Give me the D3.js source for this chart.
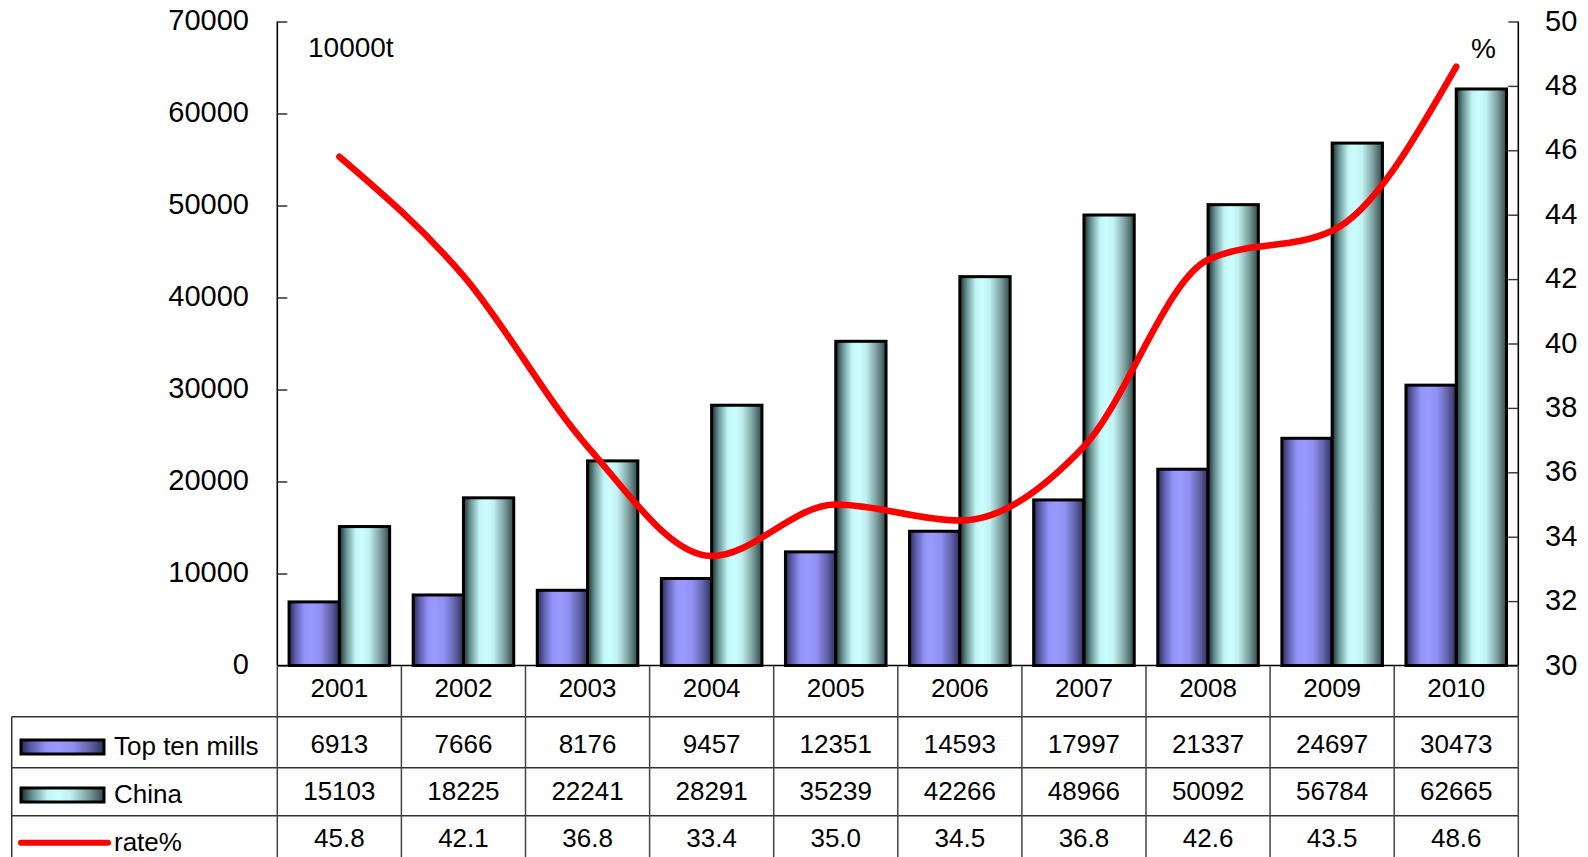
<!DOCTYPE html>
<html>
<head>
<meta charset="utf-8">
<script src="https://cdn.jsdelivr.net/npm/d3@7"></script>
<style>
  html, body { margin: 0; padding: 0; background: #fff; }
  svg { display: block; font-family: "Liberation Sans", Arial, sans-serif; }
</style>
</head>
<body>
<svg id="chart" width="1588" height="857"></svg>
<script>
// Output of the top ten mills vs. all of China (10000 t), and their share (%)
const years = ["2001","2002","2003","2004","2005","2006","2007","2008","2009","2010"];
const topTen = [6913, 7666, 8176, 9457, 12351, 14593, 17997, 21337, 24697, 30473];
const china = [15103, 18225, 22241, 28291, 35239, 42266, 48966, 50092, 56784, 62665];
const rate = [45.8, 42.1, 36.8, 33.4, 35.0, 34.5, 36.8, 42.6, 43.5, 48.6];
const rateLabels = ["45.8","42.1","36.8","33.4","35.0","34.5","36.8","42.6","43.5","48.6"];
const leftTicks = [0, 10000, 20000, 30000, 40000, 50000, 60000, 70000];
const rightTicks = [30, 32, 34, 36, 38, 40, 42, 44, 46, 48, 50];
const seriesNames = ["Top ten mills", "China", "rate%"];

const svg = d3.select("#chart");
const plotLeft = 277.3, plotRight = 1518.3, plotTop = 21.5, plotBottom = 665.5;

const x = d3.scaleBand().domain(years).range([plotLeft, plotRight]);
const xSub = d3.scaleBand().domain(["top", "china"]).range([0, x.bandwidth()]).paddingOuter(0.234);
const y = d3.scaleLinear().domain([0, 70000]).range([plotBottom, plotTop]);
const yR = d3.scaleLinear().domain([30, 50]).range([plotBottom, plotTop]);

// Cylinder-like shading for the two bar series
const defs = svg.append("defs");
function shade(id, stops) {
  const g = defs.append("linearGradient").attr("id", id)
    .attr("x1", "0%").attr("x2", "100%").attr("y1", "0%").attr("y2", "0%");
  stops.forEach(([o, c]) => g.append("stop").attr("offset", o).attr("stop-color", c));
}
shade("gTop", [["0%", "#2a2a55"], ["12%", "#5a5aa8"], ["30%", "#9494f8"], ["45%", "#9999ff"], ["62%", "#9090f2"], ["82%", "#6464ad"], ["100%", "#2e2e58"]]);
shade("gChina", [["0%", "#1a2c2c"], ["14%", "#6a9595"], ["32%", "#c2f5f5"], ["45%", "#ccffff"], ["60%", "#c0f0f0"], ["82%", "#7a9c9c"], ["100%", "#304848"]]);

// Bars
const groups = svg.append("g").selectAll("g").data(years).join("g")
  .attr("transform", d => `translate(${x(d)},0)`);
groups.append("rect")
  .attr("x", xSub("top")).attr("width", xSub.bandwidth())
  .attr("y", (d, i) => y(topTen[i])).attr("height", (d, i) => y(0) - y(topTen[i]))
  .attr("fill", "url(#gTop)").attr("stroke", "#000").attr("stroke-width", 3);
groups.append("rect")
  .attr("x", xSub("china")).attr("width", xSub.bandwidth())
  .attr("y", (d, i) => y(china[i])).attr("height", (d, i) => y(0) - y(china[i]))
  .attr("fill", "url(#gChina)").attr("stroke", "#000").attr("stroke-width", 3);

// Left axis
const leftAxis = svg.append("g").attr("transform", `translate(${plotLeft},0)`)
  .call(d3.axisRight(y).tickValues(leftTicks).tickSize(10).tickFormat(""));
leftAxis.select(".domain").attr("stroke", "#000").attr("stroke-width", 1.6).attr("d", `M0,${plotTop}V${plotBottom}`);
leftAxis.selectAll(".tick line").attr("stroke", "#222").attr("stroke-width", 1.4);
svg.append("g").selectAll("text").data(leftTicks).join("text")
  .attr("x", 249).attr("y", d => y(d) + 8)
  .attr("text-anchor", "end").attr("font-size", 29).attr("fill", "#000")
  .text(d => d);

// Right axis
const rightAxis = svg.append("g").attr("transform", `translate(${plotRight},0)`)
  .call(d3.axisLeft(yR).tickValues(rightTicks).tickSize(10).tickFormat(""));
rightAxis.select(".domain").attr("stroke", "#000").attr("stroke-width", 1.6).attr("d", `M0,${plotTop}V${plotBottom}`);
rightAxis.selectAll(".tick line").attr("stroke", "#333").attr("stroke-width", 1.4);
svg.append("g").selectAll("text").data(rightTicks).join("text")
  .attr("x", 1545).attr("y", d => yR(d) + 9)
  .attr("text-anchor", "start").attr("font-size", 29).attr("fill", "#000")
  .text(d => d);

// Bottom axis line
svg.append("line").attr("x1", plotLeft).attr("x2", plotRight)
  .attr("y1", plotBottom).attr("y2", plotBottom)
  .attr("stroke", "#000").attr("stroke-width", 1.6);

// Unit labels
svg.append("text").attr("x", 308).attr("y", 56.5).attr("font-size", 28).text("10000t");
svg.append("text").attr("x", 1471).attr("y", 57.5).attr("font-size", 28).text("%");

// Rate line
const line = d3.line()
  .x((d, i) => x(years[i]) + x.bandwidth() / 2)
  .y(d => yR(d))
  .curve(d3.curveMonotoneX);
svg.append("path").datum(rate).attr("d", line)
  .attr("fill", "none").attr("stroke", "#ff0000").attr("stroke-width", 6.5)
  .attr("stroke-linecap", "round").attr("stroke-linejoin", "round");

// Data table
const rowLines = [716.7, 767.7, 815.7];
const tableLeft = 11.7, tableBottom = 857;
const grid = svg.append("g");
rowLines.forEach(yy => grid.append("line")
  .attr("x1", tableLeft).attr("x2", plotRight).attr("y1", yy).attr("y2", yy)
  .attr("stroke", "#333").attr("stroke-width", 1.5));
grid.append("line").attr("x1", tableLeft).attr("x2", tableLeft)
  .attr("y1", rowLines[0]).attr("y2", tableBottom)
  .attr("stroke", "#333").attr("stroke-width", 1.5);
const bounds = years.map(d => x(d)).concat([plotRight]);
grid.selectAll(".v").data(bounds).join("line")
  .attr("x1", d => d).attr("x2", d => d)
  .attr("y1", plotBottom).attr("y2", tableBottom)
  .attr("stroke", "#444").attr("stroke-width", 1.5);

const cx = d => x(d) + x.bandwidth() / 2;
const tbl = svg.append("g").attr("font-size", 26).attr("text-anchor", "middle").attr("fill", "#000");
tbl.selectAll(".yr").data(years).join("text").attr("x", cx).attr("y", 697).text(d => d);
tbl.selectAll(".r1").data(years).join("text").attr("x", cx).attr("y", 752.5).text((d, i) => topTen[i]);
tbl.selectAll(".r2").data(years).join("text").attr("x", cx).attr("y", 800).text((d, i) => china[i]);
tbl.selectAll(".r3").data(years).join("text").attr("x", cx).attr("y", 847).text((d, i) => rateLabels[i]);

// Legend keys inside the table
const leg = svg.append("g");
leg.append("rect").attr("x", 21).attr("y", 740).attr("width", 83).attr("height", 14)
  .attr("fill", "url(#gTop)").attr("stroke", "#000").attr("stroke-width", 3);
leg.append("rect").attr("x", 21).attr("y", 788).attr("width", 83).attr("height", 14)
  .attr("fill", "url(#gChina)").attr("stroke", "#000").attr("stroke-width", 3);
leg.append("line").attr("x1", 21).attr("x2", 108).attr("y1", 842.7).attr("y2", 842.7)
  .attr("stroke", "#ff0000").attr("stroke-width", 6).attr("stroke-linecap", "round");
const legY = [755, 803, 851];
leg.selectAll("text").data(seriesNames).join("text")
  .attr("x", 114).attr("y", (d, i) => legY[i]).attr("font-size", 26).text(d => d);
</script>
</body>
</html>
